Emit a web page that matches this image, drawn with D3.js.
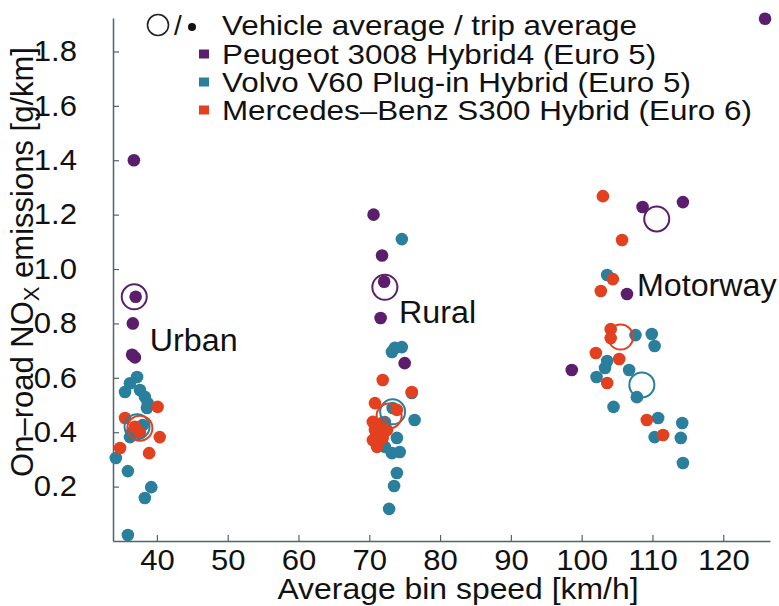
<!DOCTYPE html>
<html>
<head>
<meta charset="utf-8">
<script src="https://cdn.jsdelivr.net/npm/d3@7"></script>
<style>
  body { margin: 0; background: #fff; }
  text { font-family: "Liberation Sans", Arial, Helvetica, sans-serif; fill: #111; }
</style>
</head>
<body>
<div id="main"></div>
<script>
// tick values
const xTicks = [40, 50, 60, 70, 80, 90, 100, 110, 120]
const yTicks = [0.2, 0.4, 0.6, 0.8, 1.0, 1.2, 1.4, 1.6, 1.8]

// trip averages [speed km/h, NOx g/km]
const peugeotTrips = [
  [36.75, 1.40], [37.0, 0.898], [36.6, 0.80], [36.5, 0.685], [36.9, 0.675],
  [70.6, 1.20], [71.8, 1.05], [72.1, 0.953], [71.6, 0.82], [75.0, 0.654],
  [108.6, 1.228], [114.3, 1.246], [106.4, 0.908], [98.6, 0.629], [125.9, 1.92]
]
const volvoTrips = [
  [37.2, 0.603], [36.2, 0.58], [35.5, 0.548], [37.6, 0.555], [38.3, 0.53],
  [38.7, 0.507], [38.6, 0.489], [38.0, 0.426], [36.2, 0.382], [36.5, 0.40],
  [34.2, 0.305], [35.9, 0.257], [39.2, 0.198], [38.3, 0.158], [35.9, 0.022],
  [74.6, 1.11], [73.6, 0.71], [74.6, 0.713], [73.2, 0.695], [76.0, 0.544],
  [76.4, 0.445], [73.3, 0.489], [72.2, 0.437], [73.9, 0.379], [72.2, 0.346],
  [73.2, 0.323], [74.3, 0.327], [73.9, 0.25], [73.5, 0.202], [72.8, 0.118],
  [103.6, 0.978], [107.6, 0.757], [109.9, 0.761], [110.3, 0.717], [103.6, 0.662],
  [103.3, 0.636], [106.7, 0.629], [102.1, 0.603], [107.8, 0.529], [104.5, 0.493],
  [110.8, 0.452], [114.2, 0.434], [110.3, 0.382], [114.0, 0.379], [114.3, 0.287]
]
const mercedesTrips = [
  [40.1, 0.493], [35.5, 0.452], [36.9, 0.42], [37.6, 0.397], [40.4, 0.382],
  [34.8, 0.342], [38.9, 0.323],
  [71.9, 0.592], [76.0, 0.548], [70.8, 0.507], [73.9, 0.482], [70.8, 0.408],
  [71.5, 0.397], [70.5, 0.371], [71.9, 0.379], [71.1, 0.346], [72.5, 0.408],
  [71.8, 0.434], [70.5, 0.438],
  [103.0, 1.268], [105.7, 1.107], [104.4, 0.963], [102.7, 0.919], [104.1, 0.779],
  [104.1, 0.746], [102.0, 0.691], [105.3, 0.669], [103.6, 0.581], [109.2, 0.445],
  [111.5, 0.39]
]

// vehicle averages
const peugeotAvg = [[36.8, 0.898], [72.2, 0.933], [110.6, 1.184]]
const volvoAvg = [[37.2, 0.42], [73.3, 0.475], [108.5, 0.574]]
const mercedesAvg = [[37.6, 0.415], [72.8, 0.46], [105.5, 0.75]]

const vehicleNames = [
  "Peugeot 3008 Hybrid4 (Euro 5)",
  "Volvo V60 Plug-in Hybrid (Euro 5)",
  "Mercedes\u2013Benz S300 Hybrid (Euro 6)"
]
const regionLabels = [
  {text: "Urban", x: 39.0, y: 0.74},
  {text: "Rural", x: 74.2, y: 0.84},
  {text: "Motorway", x: 107.8, y: 0.94}
]

const colors = ["#5b1e6c", "#2a7f9d", "#e2401f"]
const trips = [peugeotTrips, volvoTrips, mercedesTrips]
const avgs = [peugeotAvg, volvoAvg, mercedesAvg]

const W = 779, H = 606
const axisColor = "#56626e"

// widen glyphs a bit, the original type is wide for its height
function stretch(sel, k) {
  sel.each(function() {
    let len = this.getComputedTextLength()
    d3.select(this)
      .attr("textLength", len * k)
      .attr("lengthAdjust", "spacingAndGlyphs")
  })
}

let svg = d3.select("div#main").append("svg")
  .attr("width", W)
  .attr("height", H)

let x = d3.scaleLinear().domain([33.8, 126.6]).range([113, 770])
let y = d3.scaleLinear().domain([0, 1.923]).range([541, 18])

// axes, ticks pointing inward
let yAxis = svg.append("g")
  .attr("transform", "translate(113,0)")
  .call(d3.axisLeft(y).tickValues(yTicks).tickFormat(d3.format(".1f"))
    .tickSizeInner(-6).tickSizeOuter(0).tickPadding(36))
let xAxis = svg.append("g")
  .attr("transform", "translate(0,541)")
  .call(d3.axisBottom(x).tickValues(xTicks)
    .tickSizeInner(-6).tickSizeOuter(0).tickPadding(8))

;[xAxis, yAxis].forEach(ax => {
  ax.select(".domain").attr("stroke", axisColor).attr("stroke-width", 1.5)
  ax.selectAll(".tick line").attr("stroke", axisColor).attr("stroke-width", 1.2)
  ax.selectAll(".tick text")
    .attr("fill", "#111")
    .style("font-size", "29px")
    .style("font-family", "'Liberation Sans', Arial, sans-serif")
    .call(stretch, 1.07)
})

// axis titles
svg.append("text")
  .attr("x", 458)
  .attr("y", 599)
  .attr("text-anchor", "middle")
  .style("font-size", "29px")
  .text("Average bin speed [km/h]")
  .call(stretch, 1.1)

let yTitle = svg.append("text")
  .attr("transform", "translate(33,262) rotate(-90)")
  .attr("text-anchor", "middle")
  .style("font-size", "31px")
yTitle.append("tspan").text("On\u2013road NO")
yTitle.append("tspan").attr("dy", 6).style("font-size", "22px").text("X")
yTitle.append("tspan").attr("dy", -6).text(" emissions [g/km]")

// trip averages
trips.forEach((pts, i) => {
  svg.append("g").selectAll("circle")
    .data(pts)
    .enter()
    .append("circle")
      .attr("cx", d => x(d[0]))
      .attr("cy", d => y(d[1]))
      .attr("r", 6.3)
      .attr("fill", colors[i])
})

// vehicle averages
avgs.forEach((pts, i) => {
  svg.append("g").selectAll("circle")
    .data(pts)
    .enter()
    .append("circle")
      .attr("cx", d => x(d[0]))
      .attr("cy", d => y(d[1]))
      .attr("r", 12.5)
      .attr("fill", "none")
      .attr("stroke", colors[i])
      .attr("stroke-width", 2)
})

// region labels
svg.append("g").selectAll("text")
  .data(regionLabels)
  .enter()
  .append("text")
    .attr("x", d => x(d.x))
    .attr("y", d => y(d.y))
    .attr("dy", "0.35em")
    .style("font-size", "31px")
    .text(d => d.text)
    .call(stretch, 1.04)

// legend
let legend = svg.append("g")
legend.append("circle")
  .attr("cx", 158).attr("cy", 25).attr("r", 10.5)
  .attr("fill", "none").attr("stroke", "#222").attr("stroke-width", 1.6)
legend.append("text")
  .attr("x", 174).attr("y", 35)
  .style("font-size", "28px")
  .text("/")
legend.append("circle")
  .attr("cx", 192).attr("cy", 27).attr("r", 4)
  .attr("fill", "#111")
legend.append("text")
  .attr("class", "legend-label")
  .attr("x", 222).attr("y", 35)
  .style("font-size", "28px")
  .text("Vehicle average / trip average")

vehicleNames.forEach((name, i) => {
  let ly = 63.5 + i * 28
  legend.append("rect")
    .attr("x", 199).attr("y", ly - 14)
    .attr("width", 10).attr("height", 9)
    .attr("fill", colors[i])
  legend.append("text")
    .attr("class", "legend-label")
    .attr("x", 222).attr("y", ly)
    .style("font-size", "28px")
    .text(name)
})
legend.selectAll("text.legend-label").call(stretch, 1.12)
</script>
</body>
</html>
